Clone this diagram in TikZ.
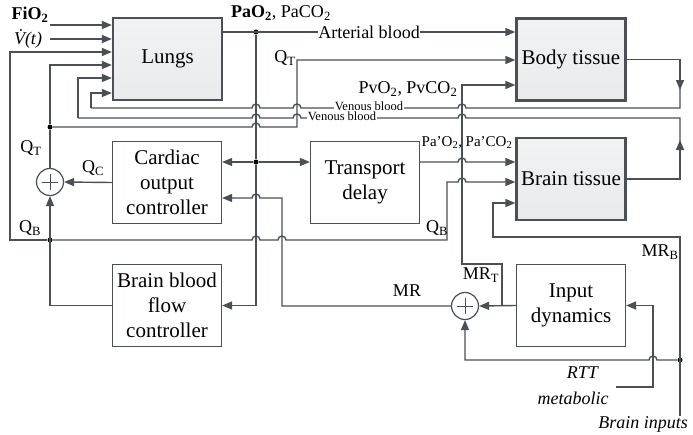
\documentclass[tikz,border=0pt]{standalone}
\usepackage{fontspec}
\setmainfont{Liberation Serif}
\usetikzlibrary{arrows.meta,positioning}

\definecolor{linec}{HTML}{4A5055}
\definecolor{boxfill}{HTML}{E9EAEC}

\tikzset{
  blk/.style={draw=linec, line width=1.2pt, fill=white, minimum width=109pt, minimum height=82pt,
              align=center, inner sep=2pt, font=\fontsize{21}{25}\selectfont},
  tissue/.style={blk, line width=2.3pt, top color=boxfill!60, bottom color=boxfill},
  sumnode/.style={circle, draw=linec, line width=1.2pt, minimum size=27pt, inner sep=0pt},
  sig/.style={draw=linec, line width=1.4pt},
  arr/.style={sig, -{Triangle[length=10pt,width=8pt]}},
  junc/.style={circle, fill=black, inner sep=0pt, minimum size=5pt},
  lbl/.style={inner sep=1pt, font=\fontsize{18}{20}\selectfont},
  plbl/.style={inner sep=1pt, font=\fontsize{15}{17}\selectfont},
  vlbl/.style={inner sep=0.5pt, fill=white, text height=7pt, text depth=1.5pt, font=\fontsize{12.5}{14}\selectfont},
}

% line jump over a vertical wire, for paths running right or left
\newcommand{\hopR}[2]{-- (#1-4,#2) arc[start angle=180,end angle=0,radius=4pt]}
\newcommand{\hopL}[2]{-- (#1+4,#2) arc[start angle=0,end angle=180,radius=4pt]}

\begin{document}
\begin{tikzpicture}[x=1pt,y=-1pt]
\useasboundingbox (0,0) rectangle (693,434);

% blocks
\node[tissue] (lungs)    at (167.5,59)  {Lungs};
\node[tissue] (body)     at (571,59.5)  {Body tissue};
\node[tissue] (brain)    at (571,179)   {Brain tissue};
\node[blk]    (cardiac)  at (167,182.5) {Cardiac\\output\\controller};
\node[blk]    (delay)    at (365,182.5) {Transport\\delay};
\node[blk]    (bbfc)     at (167,305.5) {Brain blood\\flow\\controller};
\node[blk]    (inputdyn) at (571,305.5) {Input\\dynamics};
\node[sumnode] (sumq)    at (50,182)    {};
\node[sumnode] (summr)   at (465,306)   {};
\foreach \s in {sumq,summr}
  \draw[linec, line width=1pt] (\s.center) ++(-8,0) -- ++(16,0)
                               (\s.center) ++(0,-8) -- ++(0,16);

% branch points and free ends
\coordinate (fio) at (50,25);
\coordinate (vt)  at (50,39);
\node[junc] (qtj) at (50,127)  {};
\node[junc] (qbj) at (50,240)  {};
\node[junc] (paj) at (256,32)  {};
\node[junc] (tdj) at (256,162) {};
\node[junc] (bij) at (680,360) {};
\coordinate (bin) at (680,416);
\coordinate (rtt) at (616,387);

% inspired gas
\draw[arr] (fio) -- (fio -| lungs.west);
\draw[arr] (vt) -- (vt -| lungs.west);

% arterial blood
\draw[arr] (paj -| lungs.east) -- (paj -| body.west);
\draw[sig] (paj) -- (tdj);
\draw[arr] (tdj) -- (tdj -| cardiac.east);
\draw[arr] (tdj) -- (tdj -| delay.west);
\draw[arr] (tdj) |- (bbfc.east);
\draw[arr] (delay.east |- 0,162) \hopR{462}{162} -- (brain.west |- 0,162);

% cardiac output Q_T
\draw[sig] (sumq.north) -- (qtj);
\draw[arr] (qtj) |- (lungs.west |- 0,65);
\draw[arr] (qtj) \hopR{256}{127} -- (297,127) -- (297,60) -- (body.west |- 0,60);
\draw[arr] (cardiac.west) -- (sumq.east);

% venous return
\draw[arr] (body.east) -| (680,90);
\draw[sig] (680,86) -- (680,108) \hopL{462}{108} \hopL{297}{108} \hopL{256}{108} -- (91,108);
\draw[arr] (91,108) |- (lungs.west |- 0,93);
\draw[arr] (brain.east) -| (680,140);
\draw[sig] (680,144) -- (680,118) \hopL{462}{118} \hopL{297}{118} \hopL{256}{118} -- (78,118);
\draw[arr] (78,118) |- (lungs.west |- 0,78);

% brain blood flow Q_B
\draw[arr] (bbfc.west) -| (sumq.south);
\draw[arr] (qbj) -- (10,240) |- (lungs.west |- 0,52);
\draw[arr] (qbj) \hopR{256}{240} \hopR{282}{240} -- (447,240) -- (447,182) \hopR{462}{182} -- (brain.west |- 0,182);

% metabolic rate
\draw[arr] (summr.west) -- (282,306) -- (282,198) \hopL{256}{198} -- (cardiac.east |- 0,198);
\draw[arr] (inputdyn.west) -- (summr.east);
\draw[arr] (502,305.5) -- (502,264) -- (462,264) -- (462,85) -- (body.west |- 0,85);
\draw[arr] (bin) -- (680,237) -- (493,237) |- (brain.west |- 0,203);
\draw[arr] (bij) \hopL{653}{360} -- (465,360) -- (summr.south);
\draw[arr] (rtt) -- (653,387) |- (inputdyn.east);

% labels
\node[lbl] (lfio)  at (30,15)   {\textbf{FiO\textsubscript{2}}};
\node[lbl] (lvt)   at (28,39)   {\textit{\.{V}(t)}};
\node[lbl] (lpa)   at (281,13)  {\textbf{PaO\textsubscript{2}}, PaCO\textsubscript{2}};
\node[lbl, fill=white, inner sep=0.5pt] (lart) at (369,32) {Arterial blood};
\node[lbl] (lqt1)  at (285,58)  {Q\textsubscript{T}};
\node[lbl] (lpv)   at (408,89)  {PvO\textsubscript{2}, PvCO\textsubscript{2}};
\node[vlbl] (lven1) at (369,107.5) {Venous blood};
\node[vlbl] (lven2) at (342,118) {Venous blood};
\node[lbl] (lqt2)  at (31,148)  {Q\textsubscript{T}};
\node[lbl] (lqc)   at (93,168)  {Q\textsubscript{C}};
\node[lbl] (lqb1)  at (30,228)  {Q\textsubscript{B}};
\node[plbl] (lpad) at (467,143) {Pa’O\textsubscript{2}, Pa’CO\textsubscript{2}};
\node[lbl] (lqb2)  at (437,228) {Q\textsubscript{B}};
\node[lbl] (lmr)   at (407,291) {MR};
\node[lbl] (lmrt)  at (481,275) {MR\textsubscript{T}};
\node[lbl] (lmrb)  at (660,252) {MR\textsubscript{B}};
\node[lbl] (lrtt)  at (583,373) {\textit{RTT}};
\node[lbl] (lmet)  at (573,398) {\textit{metabolic}};
\node[lbl] (lbin)  at (643,424) {\textit{Brain inputs}};

\end{tikzpicture}
\end{document}
